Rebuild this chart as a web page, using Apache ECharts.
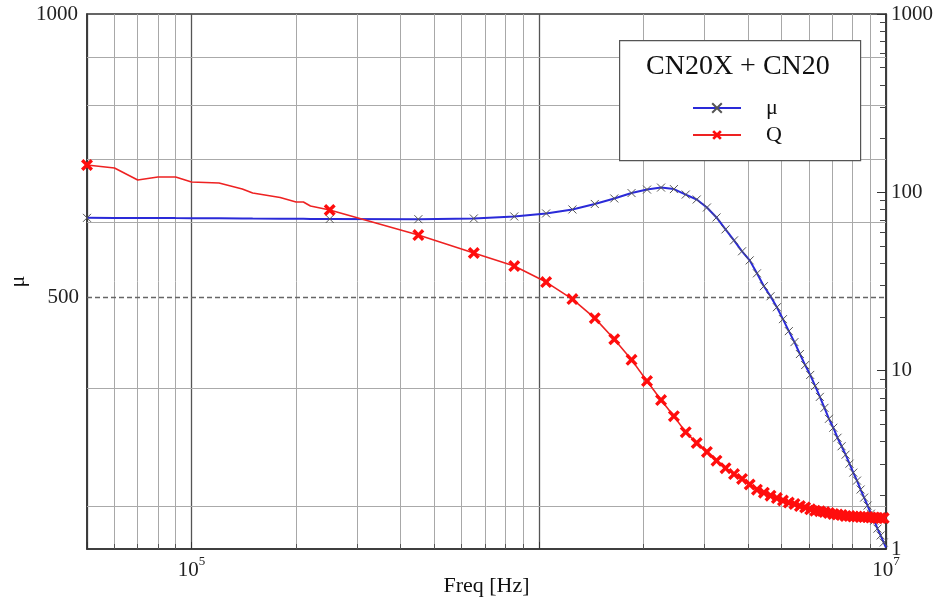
<!DOCTYPE html>
<html>
<head>
<meta charset="utf-8">
<script src="https://cdn.jsdelivr.net/npm/echarts@6/dist/echarts.min.js"></script>
<style>html,body{margin:0;padding:0;background:#fff;}#c{width:933px;height:600px;}</style>
</head>
<body>
<div id="c"></div>
<script>
// Frequencies (Hz) of the plotted points
var freq = [50000, 60000, 70000, 80000, 90000, 100000, 120000, 140000, 150000, 180000, 200000, 210000, 220000,
  250000, 450000, 650000, 850000, 1050000, 1250000, 1450000, 1650000, 1850000, 2050000, 2250000, 2450000,
  2650000, 2850000, 3050000, 3250000, 3450000, 3650000, 3850000, 4050000, 4250000, 4450000, 4650000, 4850000,
  5050000, 5250000, 5450000, 5650000, 5850000, 6050000, 6250000, 6450000, 6650000, 6850000, 7050000, 7250000,
  7450000, 7650000, 7850000, 8050000, 8250000, 8450000, 8650000, 8850000, 9050000, 9250000, 9450000, 9650000,
  9850000, 10000000];
// Permeability (left axis)
var mu = [607.2, 607.0, 607.0, 607.0, 606.8, 606.7, 606.5, 606.3, 606.2, 606.0, 605.8, 605.7, 605.6,
  605.5, 605.2, 606.3, 609.3, 613.8, 619.8, 628.2, 636.7, 645.2, 650.7, 653.9, 651.5,
  642.8, 635.1, 622.8, 607.8, 590.3, 574.6, 559.5, 547.2, 530.1, 513.7, 501.2, 487.9,
  473.9, 460.2, 448.0, 435.1, 423.5, 413.4, 402.4, 391.8, 381.4, 371.3, 363.3, 354.5,
  347.2, 340.1, 332.7, 325.5, 319.2, 312.3, 306.2, 300.3, 294.4, 289.4, 283.8, 279.1,
  274.3, 271.0];
// Quality factor (right axis)
var q = [142.3, 136.8, 117.2, 121.8, 121.8, 114.2, 112.8, 104.5, 99.1, 93.5, 88.2, 88.2, 83.8,
  79.6, 57.6, 45.7, 38.6, 31.4, 25.2, 19.7, 15.0, 11.5, 8.74, 6.84, 5.56,
  4.52, 3.93, 3.50, 3.13, 2.84, 2.63, 2.47, 2.30, 2.15, 2.07, 1.99, 1.93,
  1.87, 1.82, 1.79, 1.74, 1.71, 1.67, 1.64, 1.63, 1.61, 1.59, 1.57, 1.56,
  1.55, 1.53, 1.53, 1.52, 1.52, 1.51, 1.51, 1.51, 1.50, 1.50, 1.49, 1.49,
  1.49, 1.49];
// Frequencies that carry a marker
var markerFreq = [50000, 250000, 450000, 650000, 850000, 1050000, 1250000, 1450000, 1650000, 1850000,
  2050000, 2250000, 2450000, 2650000, 2850000, 3050000, 3250000, 3450000, 3650000, 3850000,
  4050000, 4250000, 4450000, 4650000, 4850000, 5050000, 5250000, 5450000, 5650000, 5850000,
  6050000, 6250000, 6450000, 6650000, 6850000, 7050000, 7250000, 7450000, 7650000, 7850000,
  8050000, 8250000, 8450000, 8650000, 8850000, 9050000, 9250000, 9450000, 9650000, 9850000];
// Tick labels
var xLabelExps = [5, 7];
var leftLabels = [1000];
var rightLabels = [1, 10, 100, 1000];
var muGrid = [300, 400, 600, 700, 800, 900];
var muRef = 500;
var seriesNames = ['μ', 'Q'];
var legendTitle = 'CN20X + CN20';

var FONT = 'Liberation Serif';
var markerSet = {};
markerFreq.forEach(function (f) { markerSet[f] = true; });
function build(vals) {
  return freq.map(function (f, i) {
    var item = { value: [f, vals[i]] };
    if (!markerSet[f]) item.symbol = 'none';
    return item;
  });
}
var muData = build(mu);
var qData = build(q);

var thinX = 'path://M0,0L10,10M10,0L0,10';
var boldX = 'path://M0,2L2,0L5,3L8,0L10,2L7,5L10,8L8,10L5,7L2,10L0,8L3,5Z';

var gridLines = muGrid.map(function (v) {
  return { yAxis: v, lineStyle: { color: '#aaaaaa', width: 1, type: 'solid' }, label: { show: false } };
});
gridLines.push({ yAxis: muRef, lineStyle: { color: '#666666', width: 1.3, type: [5, 3] },
  label: { show: true, position: 'start', formatter: String(muRef), distance: 8,
    fontFamily: FONT, fontSize: 21, color: '#222' } });

var chart = echarts.init(document.getElementById('c'), null, { renderer: 'canvas' });
chart.setOption({
  animation: false,
  backgroundColor: '#fff',
  grid: { left: 87, right: 47, top: 14, bottom: 51, outerBoundsMode: 'none', containLabel: false,
    show: true, borderColor: '#333', borderWidth: 1.5, backgroundColor: 'transparent' },
  title: {
    text: legendTitle, left: 641, top: 48,
    textStyle: { fontFamily: FONT, fontSize: 28, fontWeight: 'normal', color: '#111' }
  },
  legend: {
    orient: 'vertical', left: 687, top: 92, itemWidth: 48, itemHeight: 12, itemGap: 5,
    selectedMode: false,
    data: seriesNames,
    textStyle: { fontFamily: FONT, fontSize: 22, color: '#111', padding: [0, 0, 0, 20] }
  },
  graphic: [{
    type: 'rect', left: 619, top: 40, z: 3,
    shape: { width: 241, height: 120 },
    style: { fill: '#fff', stroke: '#555', lineWidth: 1.2 }
  }],
  xAxis: {
    type: 'log', logBase: 10, min: 50000, max: 10000000,
    name: 'Freq [Hz]', nameLocation: 'middle', nameGap: 26, nameMoveOverlap: false,
    nameTextStyle: { fontFamily: FONT, fontSize: 22, color: '#111' },
    axisLine: { lineStyle: { color: '#333', width: 1.5 } },
    axisTick: { show: true, inside: true, length: 7, lineStyle: { color: '#333' } },
    minorTick: { show: true, splitNumber: 9, length: 5, lineStyle: { color: '#555' } },
    splitLine: { show: true, lineStyle: { color: '#555', width: 1.3 } },
    minorSplitLine: { show: true, lineStyle: { color: '#a8a8a8', width: 1 } },
    axisLabel: {
      margin: 6, color: '#222', fontFamily: FONT, fontSize: 21,
      formatter: function (v) {
        var e = Math.round(Math.log10(v));
        if (Math.abs(v - Math.pow(10, e)) / v > 1e-6) return '';
        if (xLabelExps.indexOf(e) < 0) return '';
        return '{b|10}{s|' + e + '}';
      },
      rich: {
        b: { fontFamily: FONT, fontSize: 21, color: '#222', lineHeight: 26, verticalAlign: 'bottom' },
        s: { fontFamily: FONT, fontSize: 13, color: '#222', lineHeight: 13, verticalAlign: 'top' }
      }
    }
  },
  yAxis: [{
    type: 'log', logBase: 10, min: 270, max: 1000, position: 'left',
    name: 'μ', nameLocation: 'middle', nameGap: 58, nameRotate: 90, nameMoveOverlap: false,
    nameTextStyle: { fontFamily: FONT, fontSize: 22, color: '#111' },
    axisLine: { show: true, lineStyle: { color: '#333', width: 1.5 } },
    axisTick: { show: false },
    splitLine: { show: false },
    axisLabel: {
      margin: 9, color: '#222', fontFamily: FONT, fontSize: 21,
      formatter: function (v) { var r = Math.round(v); return leftLabels.indexOf(r) >= 0 && Math.abs(v - r) < 1e-6 * r ? String(r) : ''; }
    }
  }, {
    type: 'log', logBase: 10, min: 1, max: 1000, position: 'right',
    axisLine: { show: true, lineStyle: { color: '#333', width: 1.5 } },
    axisTick: { show: true, inside: true, length: 9, lineStyle: { color: '#333' } },
    minorTick: { show: true, splitNumber: 9, length: 6, lineStyle: { color: '#444' } },
    splitLine: { show: false },
    axisLabel: {
      margin: 5, color: '#222', fontFamily: FONT, fontSize: 21,
      formatter: function (v) { var r = Math.round(v); return rightLabels.indexOf(r) >= 0 ? String(r) : ''; }
    }
  }],
  series: [{
    name: seriesNames[0], type: 'line', yAxisIndex: 0, data: muData, z: 2,
    symbol: thinX, symbolSize: 8,
    lineStyle: { color: '#2a2ad8', width: 2 },
    itemStyle: { color: '#555', borderColor: '#555', borderWidth: 1 },
    markLine: { silent: true, symbol: 'none', z: 1, animation: false, data: gridLines }
  }, {
    name: seriesNames[1], type: 'line', yAxisIndex: 1, data: qData, z: 2,
    symbol: boldX, symbolSize: 12,
    lineStyle: { color: '#ee2222', width: 1.6 },
    itemStyle: { color: '#ff0d0d', borderWidth: 0 }
  }]
});
</script>
</body>
</html>
